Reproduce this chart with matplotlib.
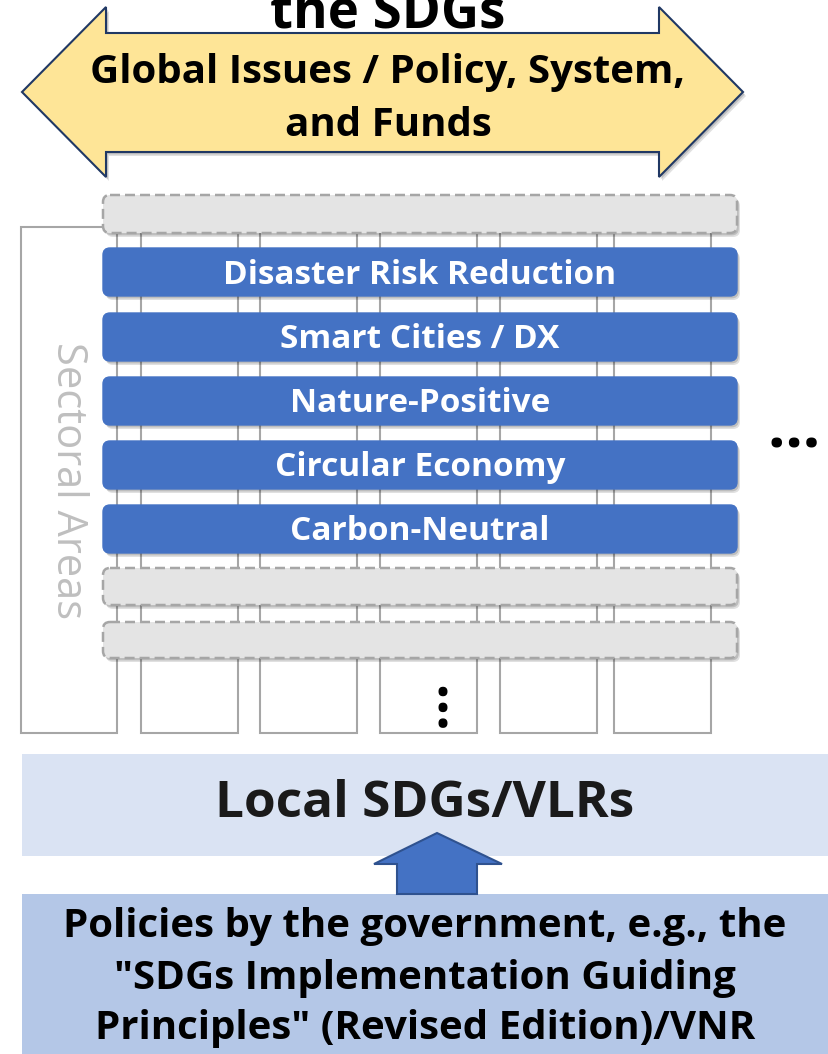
import matplotlib.pyplot as plt
from matplotlib.patches import Polygon, Rectangle, FancyBboxPatch

plt.rcParams['font.family'] = ['Open Sans', 'DejaVu Sans']

title_top = "the SDGs"
global_text = "Global Issues / Policy, System,\nand Funds"
sector_labels = ["Disaster Risk Reduction", "Smart Cities / DX", "Nature-Positive",
                 "Circular Economy", "Carbon-Neutral"]
# rows of the stack: blank (dashed) rows above and below the named sectors
row_labels = [""] + sector_labels + ["", ""]
side_label = "Sectoral Areas"
local_text = "Local SDGs/VLRs"
policy_text = ('Policies by the government, e.g., the\n"SDGs Implementation Guiding\n'
               'Principles" (Revised Edition)/VNR')

W, H = 829, 1054
fig = plt.figure(figsize=(W / 100, H / 100), dpi=100)
ax = fig.add_axes([0, 0, 1, 1])
ax.set_xlim(0, W)
ax.set_ylim(H, 0)
ax.axis('off')

blue = '#4472C4'
grey_edge = '#A6A6A6'


def shadow(patch_fn, dx=3, dy=4):
    for k, a in [(1.0, 0.12), (0.6, 0.15)]:
        p = patch_fn(dx * k, dy * k)
        p.set_facecolor((0, 0, 0, a))
        p.set_edgecolor('none')
        p.set_zorder(p.get_zorder() - 0.5)
        ax.add_patch(p)


# ---- double arrow at the top
arrow_pts = [(22, 92), (106, 7), (106, 33), (659, 33), (659, 7), (743, 92),
             (659, 177), (659, 152), (106, 152), (106, 177)]
shadow(lambda dx, dy: Polygon([(x + dx, y + dy) for x, y in arrow_pts], zorder=3))
ax.add_patch(Polygon(arrow_pts, closed=True, facecolor='#FEE597', edgecolor='#203864',
                     lw=1.5, zorder=3))
ax.text(388, 28, title_top, ha='center', va='baseline', fontsize=38,
        fontweight='bold', color='black', zorder=4)
ax.text(388, 99, global_text, ha='center', va='center', fontsize=29,
        fontweight='bold', color='black', linespacing=1.45, zorder=4)

# ---- vertical column boxes
ax.add_patch(Rectangle((21, 227), 96, 506, facecolor='white', edgecolor=grey_edge,
                       lw=1.5, zorder=1))
col_x = [141, 260, 380, 500, 614]
for cx in col_x:
    ax.add_patch(Rectangle((cx, 215), 97, 518, facecolor='white', edgecolor=grey_edge,
                           lw=1.5, zorder=1))
ax.text(68, 481, side_label, ha='center', va='center', rotation=-90, fontsize=30,
        color='#BFBFBF', zorder=2)

# ---- horizontal sector bars
row_tops = [195, 248, 313, 377, 441, 505, 568, 622]
row_h = [38, 48, 48, 48, 48, 48, 37, 36]
bx, bw = 103, 634
for lab, top, h in zip(row_labels, row_tops, row_h):
    def mk(dx, dy, top=top, h=h):
        return FancyBboxPatch((bx + dx, top + dy), bw, h,
                              boxstyle="round,pad=0,rounding_size=7", zorder=5)
    shadow(mk)
    if lab:
        ax.add_patch(FancyBboxPatch((bx, top), bw, h, boxstyle="round,pad=0,rounding_size=7",
                                    facecolor=blue, edgecolor=blue, lw=1, zorder=5))
        ax.text(bx + bw / 2, top + h / 2 + 3, lab, ha='center', va='center', fontsize=24,
                fontweight='bold', color='white', zorder=6)
    else:
        ax.add_patch(FancyBboxPatch((bx, top), bw, h, boxstyle="round,pad=0,rounding_size=7",
                                    facecolor='#E4E4E4', edgecolor=grey_edge, lw=1.8,
                                    linestyle=(0, (4, 2)), zorder=5))

# ellipses
ax.text(794, 432, "…", ha='center', va='center', fontsize=44, fontweight='bold',
        color='black', zorder=6)
ax.text(431, 703, "…", ha='center', va='center', fontsize=40, fontweight='bold',
        rotation=90, color='black', zorder=6)

# ---- local SDGs box
ax.add_patch(Rectangle((22, 754), W - 22, 102, facecolor='#DAE3F3', edgecolor='none', zorder=1))
ax.text(425, 804, local_text, ha='center', va='center', fontsize=37, fontweight='bold',
        color='#1A1A1A', zorder=4)

# ---- policy box and up arrow
ax.add_patch(Rectangle((22, 894), W - 22, H - 894, facecolor='#B4C7E7', edgecolor='none', zorder=1))
up_pts = [(437, 833), (502, 864), (477, 864), (477, 894), (397, 894), (397, 864), (374, 864)]
ax.add_patch(Polygon(up_pts, closed=True, facecolor=blue, edgecolor='#2F528F', lw=1.5, zorder=3))
ax.text(425, 978, policy_text, ha='center', va='center', fontsize=29, fontweight='bold',
        color='black', linespacing=1.4, zorder=4)

fig.savefig('out.png', dpi=100)
